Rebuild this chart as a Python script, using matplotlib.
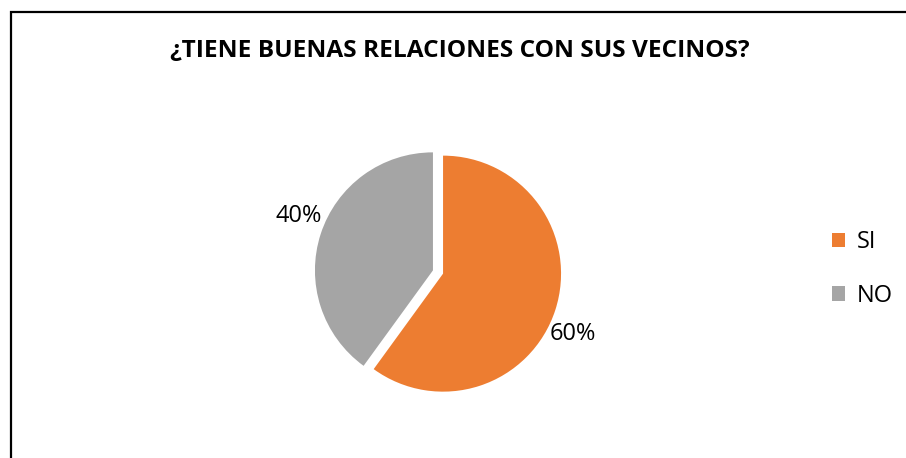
import matplotlib
matplotlib.use("Agg")
import matplotlib.pyplot as plt
from matplotlib.patches import Rectangle

plt.rcParams['font.family'] = ['Open Sans', 'DejaVu Sans']

title = "¿TIENE BUENAS RELACIONES CON SUS VECINOS?"
categories = ["SI", "NO"]
values = [60, 40]
colors = ["#ED7D31", "#A5A5A5"]

W, H = 906, 458
fig = plt.figure(figsize=(W / 100, H / 100), dpi=100)

# chart border (cropped at right and bottom like the source)
fig.patches.append(Rectangle((11 / W, -0.1), 1.2, 1.1 - 12 / H, transform=fig.transFigure,
                             fill=False, edgecolor="black", linewidth=1.6))

fig.text(460 / W, 1 - 51 / H, title, ha="center", va="center",
         fontsize=17.6, fontweight="bold", color="#000000")

# pie axes: centre at (438, 272) px, radius 118 px
R = 118
half = 150
ax = fig.add_axes([(438 - half) / W, (H - 272 - half) / H, 2 * half / W, 2 * half / H])
wedges, texts, autotexts = ax.pie(values, colors=colors, startangle=90, counterclock=False,
                                  explode=[0.045, 0.045], autopct="%1.0f%%", pctdistance=1.27,
                                  textprops=dict(fontsize=17, color="#000000"))
# best-fit label placement like the original
autotexts[0].set_position((1.144, -0.525))
autotexts[1].set_position((-1.178, 0.475))
lim = half / R
ax.set_xlim(-lim, lim)
ax.set_ylim(-lim, lim)
ax.set_aspect("equal")
ax.axis("off")

fig.legend(wedges, categories, loc="center left", bbox_to_anchor=(811 / W, 1 - 269 / H),
           frameon=False, fontsize=17, handlelength=0.55, handleheight=0.55,
           handletextpad=0.5, labelspacing=1.25)

fig.savefig("out.png", dpi=100)
